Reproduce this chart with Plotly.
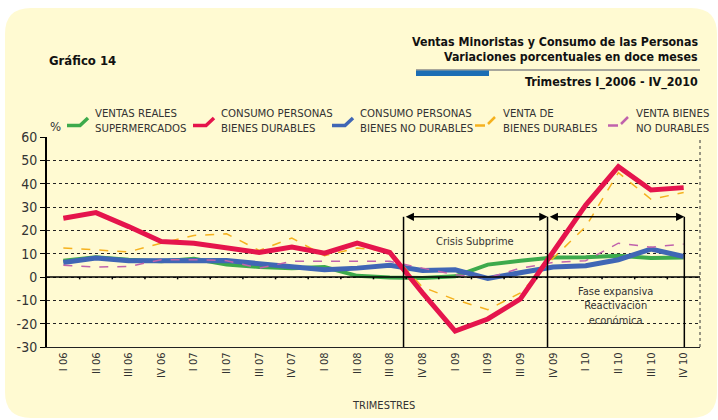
import plotly.graph_objects as go

quarters = ["I 06", "II 06", "III 06", "IV 06", "I 07", "II 07", "III 07", "IV 07",
            "I 08", "II 08", "III 08", "IV 08", "I 09", "II 09", "III 09", "IV 09",
            "I 10", "II 10", "III 10", "IV 10"]

ventas_supermercados = [7.0, 8.5, 7.4, 6.7, 7.8, 5.3, 4.3, 3.8, 4.3, 0.5,
                        -0.2, -0.4, 0.3, 5.3, 7.0, 8.4, 8.5, 9.1, 8.1, 8.4]
consumo_durables = [25.2, 27.6, 21.6, 15.2, 14.5, 12.4, 10.5, 12.8, 10.2, 14.5,
                    10.5, -6.8, -23.2, -18.0, -9.4, 10.7, 30.8, 47.3, 37.3, 38.3]
consumo_no_durables = [6.2, 8.1, 7.0, 7.1, 7.4, 7.1, 5.7, 4.5, 3.1, 3.8,
                       5.0, 2.8, 3.1, -0.6, 2.0, 4.3, 4.8, 7.4, 12.0, 8.8]
venta_durables = [12.4, 11.5, 10.8, 14.5, 17.8, 18.5, 11.4, 16.7, 9.1, 12.4,
                  11.0, -4.3, -9.7, -14.0, -6.8, 8.0, 21.6, 44.7, 33.3, 36.2]
venta_no_durables = [5.0, 4.3, 4.5, 7.4, 7.4, 7.0, 3.8, 6.7, 6.7, 6.7,
                     6.7, 3.8, 1.0, -0.4, 3.8, 6.2, 7.0, 14.5, 12.8, 14.1]

series_names = ["VENTAS REALES<br>SUPERMERCADOS", "CONSUMO PERSONAS<br>BIENES DURABLES",
                "CONSUMO PERSONAS<br>BIENES NO DURABLES", "VENTA DE<br>BIENES DURABLES",
                "VENTA BIENES<br>NO DURABLES"]

y_ticks = [-30, -20, -10, 0, 10, 20, 30, 40, 50, 60]

FONT = "DejaVu Sans Condensed, Liberation Sans Narrow, Arial Narrow, sans-serif"
TXT = "#333333"
CARD = "#FFFAD2"
GREEN, RED, BLUE, ORANGE, PURPLE = "#3DAA4C", "#E5144C", "#4066B5", "#F5B11E", "#C062AC"

W, H = 718, 420
ML, MR, MT, MB = 47, 18, 137, 73
PW, PH = W - ML - MR, H - MT - MB


def px(x):
    return (x - ML) / PW


def py(y):
    return (H - MB - y) / PH


x_idx = list(range(len(quarters)))

fig = go.Figure()

traces = [
    (ventas_supermercados, GREEN, 4, "solid"),
    (consumo_no_durables, BLUE, 5, "solid"),
    (venta_durables, ORANGE, 1.5, "dash"),
    (venta_no_durables, PURPLE, 1.5, "dash"),
    (consumo_durables, RED, 5, "solid"),
]
order_names = [series_names[0], series_names[2], series_names[3], series_names[4], series_names[1]]
for (vals, col, w, dash), nm in zip(traces, order_names):
    fig.add_trace(go.Scatter(x=x_idx, y=vals, mode="lines", name=nm,
                             line=dict(color=col, width=w, dash=dash),
                             showlegend=False, hoverinfo="skip"))

shapes = []
# card background
x0, x1, y0, y1, r = 5, 717, 8, 418, 26
path = (f"M {px(x0 + r)} {py(y0)} L {px(x1 - r)} {py(y0)} "
        f"Q {px(x1)} {py(y0)} {px(x1)} {py(y0 + r)} "
        f"L {px(x1)} {py(y1 - r)} Q {px(x1)} {py(y1)} {px(x1 - r)} {py(y1)} "
        f"L {px(x0 + r)} {py(y1)} Q {px(x0)} {py(y1)} {px(x0)} {py(y1 - r)} "
        f"L {px(x0)} {py(y0 + r)} Q {px(x0)} {py(y0)} {px(x0 + r)} {py(y0)} Z")
shapes.append(dict(type="path", xref="paper", yref="paper", path=path,
                   fillcolor=CARD, line=dict(width=0), layer="below"))

# header rule
shapes.append(dict(type="line", xref="paper", yref="paper", x0=px(416), x1=px(700),
                   y0=py(70), y1=py(70), line=dict(color="#8a8a8a", width=1.5)))
shapes.append(dict(type="rect", xref="paper", yref="paper", x0=px(416), x1=px(489),
                   y0=py(76), y1=py(70.5), fillcolor="#1B6DB4", line=dict(width=0)))

# right dotted border
shapes.append(dict(type="line", xref="paper", yref="paper", x0=1, x1=1, y0=0, y1=1,
                   line=dict(color="#333", width=1, dash="dot")))
# zero line and its ticks
shapes.append(dict(type="line", xref="paper", yref="y", x0=0, x1=1, y0=0, y1=0,
                   line=dict(color="black", width=1.5)))
for i in range(len(quarters) - 1):
    shapes.append(dict(type="line", xref="x", yref="y", x0=i + 0.5, x1=i + 0.5,
                       y0=0, y1=-1.0, line=dict(color="black", width=1.5)))

# period brackets
top_v = 25.8
for xv in [10.42, 14.83, 19.02]:
    shapes.append(dict(type="line", xref="x", yref="y", x0=xv, x1=xv, y0=-30, y1=top_v,
                       line=dict(color="black", width=1.5)))

# legend icons
legend_x = [67, 193, 332, 475, 608]
legend_cols = [GREEN, RED, BLUE, ORANGE, PURPLE]
for i, (lx, col) in enumerate(zip(legend_x, legend_cols)):
    if i < 3:
        shapes.append(dict(type="path", xref="paper", yref="paper",
                           path=f"M {px(lx)} {py(125.5)} L {px(lx + 13)} {py(125.5)} L {px(lx + 21)} {py(118)}",
                           line=dict(color=col, width=3.5)))
    else:
        shapes.append(dict(type="line", xref="paper", yref="paper", x0=px(lx), x1=px(lx + 10),
                           y0=py(125.5), y1=py(125.5), line=dict(color=col, width=2.5)))
        shapes.append(dict(type="line", xref="paper", yref="paper", x0=px(lx + 13), x1=px(lx + 20),
                           y0=py(124), y1=py(117), line=dict(color=col, width=2.5)))

annotations = []
for lx, nm in zip(legend_x, series_names):
    annotations.append(dict(xref="paper", yref="paper", x=px(lx + 26), y=py(121), text=nm,
                            showarrow=False, xanchor="left", yanchor="middle", align="left",
                            font=dict(family=FONT, size=11.3, color=TXT)))

# double arrows
for a, b in [(10.42, 14.83), (14.83, 19.02)]:
    annotations.append(dict(x=b, y=top_v, ax=a + 0.02, ay=top_v, xref="x", yref="y",
                            axref="x", ayref="y", text="", showarrow=True,
                            arrowhead=2, startarrowhead=2, arrowside="end+start",
                            arrowsize=1.1, arrowwidth=1.5, arrowcolor="black"))

annotations += [
    dict(xref="paper", yref="paper", x=px(47), y=py(61), text="<b>Gráfico 14</b>",
         showarrow=False, xanchor="left", yanchor="middle",
         font=dict(family=FONT, size=13, color="#111")),
    dict(xref="paper", yref="paper", x=px(700), y=py(42),
         text="<b>Ventas Minoristas y Consumo de las Personas</b>",
         showarrow=False, xanchor="right", yanchor="middle",
         font=dict(family=FONT, size=12.3, color="#111")),
    dict(xref="paper", yref="paper", x=px(700), y=py(57),
         text="<b>Variaciones porcentuales en doce meses</b>",
         showarrow=False, xanchor="right", yanchor="middle",
         font=dict(family=FONT, size=12.3, color="#111")),
    dict(xref="paper", yref="paper", x=px(700), y=py(82),
         text="<b>Trimestres I_2006 - IV_2010</b>",
         showarrow=False, xanchor="right", yanchor="middle",
         font=dict(family=FONT, size=12.4, color="#111")),
    dict(xref="paper", yref="paper", x=px(55), y=py(127), text="%",
         showarrow=False, xanchor="center", yanchor="middle",
         font=dict(family=FONT, size=13, color=TXT)),
    dict(xref="paper", yref="paper", x=px(383), y=py(405), text="TRIMESTRES",
         showarrow=False, xanchor="center", yanchor="middle",
         font=dict(family=FONT, size=11, color=TXT)),
    dict(xref="x", yref="y", x=12.6, y=15.3, text="Crisis Subprime",
         showarrow=False, xanchor="center", yanchor="middle",
         font=dict(family=FONT, size=11, color=TXT)),
    dict(xref="x", yref="y", x=16.9, y=-12.3,
         text="Fase expansiva<br>Reactivación<br>económica",
         showarrow=False, xanchor="center", yanchor="middle",
         font=dict(family=FONT, size=11, color=TXT)),
]

fig.update_layout(
    width=W, height=H,
    margin=dict(l=ML, r=MR, t=MT, b=MB, pad=0),
    paper_bgcolor="white",
    plot_bgcolor="rgba(0,0,0,0)",
    shapes=shapes,
    annotations=annotations,
    showlegend=False,
    xaxis=dict(range=[-0.5, 19.5], tickvals=x_idx, ticktext=quarters, tickangle=-90,
               showgrid=False, zeroline=False, showline=True, linecolor="#222", linewidth=1.2,
               ticks="", tickfont=dict(family=FONT, size=11, color=TXT), fixedrange=True),
    yaxis=dict(range=[-30, 60], tickvals=y_ticks, ticktext=[str(v) for v in y_ticks],
               showgrid=True, gridcolor="#222", griddash="dot", gridwidth=1,
               zeroline=False, showline=True, linecolor="black", linewidth=2,
               ticks="outside", ticklen=5, tickcolor="black", tickwidth=1.2,
               tickfont=dict(family=FONT, size=14, color=TXT), fixedrange=True),
)

fig.write_html("out.html", config={"displayModeBar": False},
               post_script="document.body.style.margin='0px';")
